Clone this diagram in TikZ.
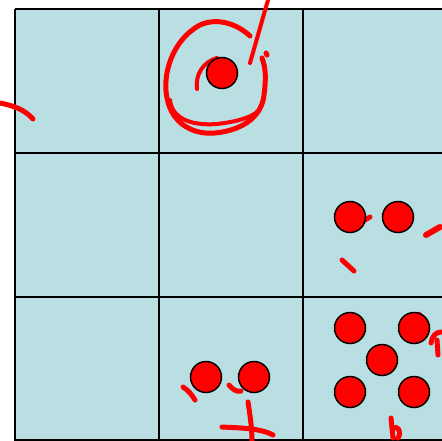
\documentclass[tikz,border=0pt]{standalone}
\definecolor{cellbg}{HTML}{B9DFE3}
\definecolor{ink}{HTML}{FF0000}
\tikzset{
  dot/.style={circle, draw=black, fill=ink, line width=1.5pt, minimum size=31pt, inner sep=0pt},
  scrib/.style={draw=ink, line width=5pt, line cap=round, line join=round},
  gridline/.style={draw=black, line width=1.5pt}
}
\begin{document}
\begin{tikzpicture}[x=1pt,y=-1pt]
\useasboundingbox (0,0) rectangle (441,441);
\fill[white] (0,0) rectangle (441,441);
\fill[cellbg] (15,9) rectangle (447,447);
\foreach \v in {15,159,303} {\draw[gridline] (\v,9) -- (\v,447);}
\foreach \v in {9,153,297} {\draw[gridline] (15,\v) -- (447,\v);}
\draw[gridline] (15,440) -- (447,440);
% scribbles
\draw[scrib, line width=4pt] (268,0) -- (250,63);
\draw[scrib] (266,53) -- (267,55);
\draw[scrib] (250,36) .. controls (235,22) and (215,18) .. (200,25) .. controls (172,40) and (162,75) .. (167,98) .. controls (172,125) and (195,135) .. (215,133) .. controls (245,130) and (262,115) .. (264,95) .. controls (266,80) and (266,68) .. (262,58);
\draw[scrib, line width=4pt] (170,100) .. controls (172,118) and (190,126) .. (217,124) .. controls (235,122) and (250,118) .. (257,112);
\draw[scrib, line width=4pt] (197,89) .. controls (195,75) and (203,62) .. (217,58);
\draw[scrib] (0,103) .. controls (15,106) and (25,110) .. (33,119);
\draw[scrib] (361,222) -- (370,217);
\draw[scrib] (342,260) -- (354,271);
\draw[scrib, line width=6pt] (426,235) -- (440,227);
\draw[scrib] (431,343) .. controls (432,336) and (436,332) .. (441,332);
\draw[scrib] (437,340) -- (438,355);
\draw[scrib, line width=3pt] (419,313) -- (422,316);
\draw[scrib] (391,418) -- (393,438) (393,428) .. controls (398,425) and (402,432) .. (398,438);
\draw[scrib] (183,387) .. controls (188,390) and (192,395) .. (195,400);
\draw[scrib] (229,385) .. controls (233,390) and (237,392) .. (241,391);
\draw[scrib] (248,402) .. controls (250,415) and (252,428) .. (252,441);
\draw[scrib] (222,427) .. controls (240,428) and (260,428) .. (273,435);
% dots
\node[dot] (a) at (222,73) {};
\node[dot] (b1) at (350,217) {};
\node[dot] (b2) at (398,217) {};
\node[dot] (c1) at (206,377) {};
\node[dot] (c2) at (254,377) {};
\node[dot] (d1) at (350,328) {};
\node[dot] (d2) at (414,328) {};
\node[dot] (d3) at (382,360) {};
\node[dot] (d4) at (350,392) {};
\node[dot] (d5) at (414,392) {};
\end{tikzpicture}
\end{document}
